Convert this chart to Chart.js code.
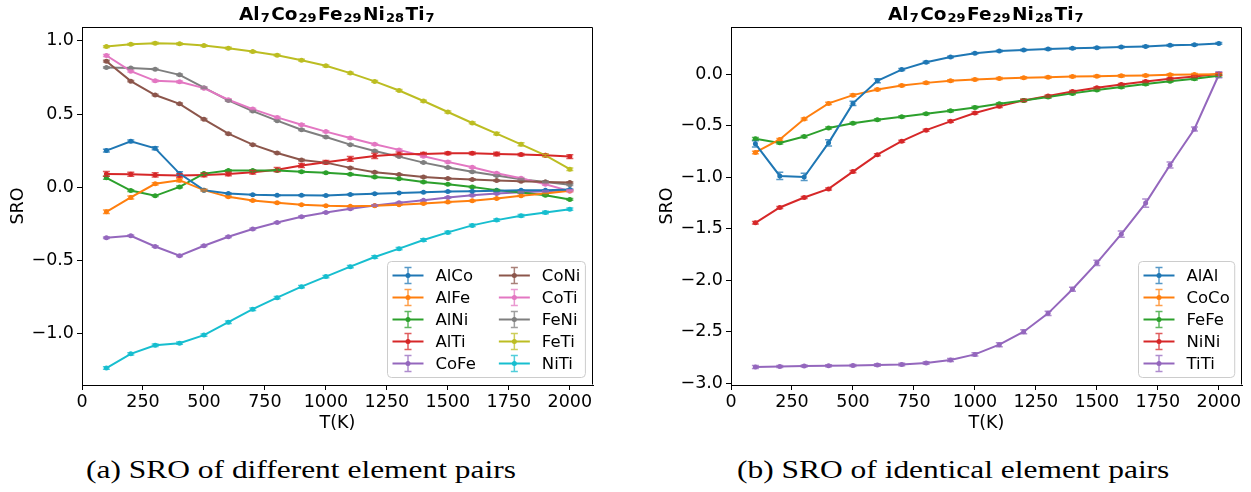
<!DOCTYPE html>
<html>
<head>
<meta charset="utf-8">
<script src="https://cdn.jsdelivr.net/npm/chart.js@4.4.1/dist/chart.umd.min.js"></script>
<style>
  html, body { margin: 0; padding: 0; background: #fff; }
  #wrap { position: relative; width: 1251px; height: 492px; overflow: hidden; background: #fff; }
  canvas { position: absolute; top: 0; }
  .cap { position: absolute; top: 457px; font-family: "Liberation Serif", serif; font-size: 26px; line-height: 1; color: #000; white-space: nowrap; transform-origin: left top; }
</style>
</head>
<body>
<div id="wrap">
  <canvas id="pairs-chart" width="625" height="440" style="left:0"></canvas>
  <canvas id="self-chart" width="626" height="440" style="left:625px"></canvas>
  <div class="cap" id="cap-a">(a) SRO of different element pairs</div>
  <div class="cap" id="cap-b">(b) SRO of identical element pairs</div>
</div>
<script>
const tempsK = [100, 200, 300, 400, 500, 600, 700, 800, 900, 1000, 1100, 1200, 1300, 1400, 1500, 1600, 1700, 1800, 1900, 2000];
const xTickValues = [0, 250, 500, 750, 1000, 1250, 1500, 1750, 2000];
const pairYTicks = [-1.0, -0.5, 0.0, 0.5, 1.0];
const selfYTicks = [-3.0, -2.5, -2.0, -1.5, -1.0, -0.5, 0.0];

const tab10 = ['#1f77b4', '#ff7f0e', '#2ca02c', '#d62728', '#9467bd', '#8c564b', '#e377c2', '#7f7f7f', '#bcbd22', '#17becf'];

// (a) different element pairs
const pairLabels = ['AlCo', 'AlFe', 'AlNi', 'AlTi', 'CoFe', 'CoNi', 'CoTi', 'FeNi', 'FeTi', 'NiTi'];
const sroAlCo = [0.25, 0.314, 0.266, 0.093, -0.02, -0.043, -0.052, -0.055, -0.055, -0.057, -0.05, -0.045, -0.039, -0.034, -0.03, -0.027, -0.025, -0.02, -0.02, -0.016];
const sroAlFe = [-0.168, -0.07, 0.023, 0.048, -0.02, -0.066, -0.091, -0.107, -0.12, -0.127, -0.13, -0.127, -0.12, -0.111, -0.102, -0.093, -0.077, -0.059, -0.043, -0.025];
const sroAlNi = [0.064, -0.023, -0.059, 0.002, 0.093, 0.114, 0.114, 0.114, 0.105, 0.098, 0.089, 0.07, 0.057, 0.036, 0.02, 0.002, -0.02, -0.036, -0.055, -0.084];
const sroAlTi = [0.091, 0.089, 0.084, 0.08, 0.084, 0.091, 0.102, 0.12, 0.148, 0.17, 0.193, 0.214, 0.225, 0.227, 0.232, 0.232, 0.227, 0.223, 0.218, 0.209];
const sroCoFe = [-0.345, -0.332, -0.405, -0.468, -0.4, -0.339, -0.286, -0.241, -0.202, -0.173, -0.148, -0.125, -0.107, -0.09, -0.07, -0.055, -0.043, -0.034, -0.027, -0.02];
const sroCoNi = [0.861, 0.725, 0.63, 0.57, 0.464, 0.366, 0.291, 0.234, 0.186, 0.168, 0.132, 0.102, 0.086, 0.07, 0.059, 0.052, 0.045, 0.041, 0.036, 0.032];
const sroCoTi = [0.9, 0.793, 0.727, 0.72, 0.677, 0.598, 0.534, 0.477, 0.427, 0.38, 0.336, 0.293, 0.255, 0.211, 0.173, 0.136, 0.095, 0.061, 0.02, -0.027];
const sroFeNi = [0.818, 0.814, 0.807, 0.768, 0.68, 0.593, 0.52, 0.455, 0.393, 0.343, 0.291, 0.248, 0.209, 0.168, 0.134, 0.105, 0.08, 0.055, 0.036, 0.016];
const sroFeTi = [0.961, 0.977, 0.984, 0.98, 0.968, 0.95, 0.927, 0.902, 0.868, 0.83, 0.78, 0.723, 0.661, 0.589, 0.514, 0.439, 0.366, 0.293, 0.218, 0.123];
const sroNiTi = [-1.236, -1.139, -1.08, -1.066, -1.011, -0.923, -0.834, -0.755, -0.68, -0.611, -0.543, -0.477, -0.42, -0.361, -0.309, -0.261, -0.225, -0.195, -0.173, -0.15];

const errAlCo = [0.01, 0.008, 0.01, 0.012, 0.005, 0.004, 0.003, 0.003, 0.003, 0.003, 0.003, 0.003, 0.003, 0.003, 0.003, 0.003, 0.003, 0.003, 0.003, 0.003];
const errAlFe = [0.012, 0.01, 0.008, 0.01, 0.006, 0.005, 0.005, 0.004, 0.004, 0.004, 0.004, 0.004, 0.004, 0.004, 0.004, 0.004, 0.004, 0.004, 0.004, 0.004];
const errAlNi = [0.01, 0.006, 0.005, 0.006, 0.006, 0.006, 0.005, 0.005, 0.005, 0.005, 0.005, 0.005, 0.005, 0.005, 0.005, 0.005, 0.005, 0.005, 0.005, 0.006];
const errAlTi = [0.016, 0.014, 0.014, 0.012, 0.012, 0.012, 0.012, 0.014, 0.014, 0.012, 0.016, 0.018, 0.015, 0.01, 0.008, 0.008, 0.012, 0.008, 0.008, 0.012];
const errCoFe = [0.005, 0.005, 0.005, 0.005, 0.005, 0.005, 0.005, 0.005, 0.005, 0.005, 0.005, 0.005, 0.005, 0.005, 0.005, 0.005, 0.005, 0.005, 0.005, 0.005];
const errCoNi = [0.006, 0.005, 0.005, 0.005, 0.005, 0.005, 0.005, 0.005, 0.005, 0.005, 0.005, 0.005, 0.005, 0.005, 0.005, 0.005, 0.005, 0.005, 0.005, 0.005];
const errCoTi = [0.007, 0.006, 0.006, 0.006, 0.006, 0.006, 0.006, 0.006, 0.006, 0.006, 0.006, 0.006, 0.006, 0.006, 0.006, 0.006, 0.006, 0.006, 0.006, 0.006];
const errFeNi = [0.005, 0.005, 0.005, 0.005, 0.005, 0.005, 0.005, 0.005, 0.005, 0.005, 0.005, 0.005, 0.005, 0.005, 0.005, 0.005, 0.005, 0.005, 0.005, 0.005];
const errFeTi = [0.006, 0.006, 0.006, 0.006, 0.006, 0.006, 0.006, 0.006, 0.006, 0.006, 0.006, 0.006, 0.006, 0.006, 0.006, 0.006, 0.008, 0.01, 0.008, 0.008];
const errNiTi = [0.008, 0.008, 0.008, 0.008, 0.008, 0.008, 0.008, 0.008, 0.008, 0.008, 0.008, 0.008, 0.008, 0.008, 0.008, 0.008, 0.008, 0.008, 0.008, 0.008];

// (b) identical element pairs
const selfLabels = ['AlAl', 'CoCo', 'FeFe', 'NiNi', 'TiTi'];
const sroAlAl = [-0.675, -0.987, -0.997, -0.666, -0.283, -0.064, 0.045, 0.116, 0.167, 0.203, 0.225, 0.235, 0.244, 0.251, 0.257, 0.264, 0.27, 0.28, 0.286, 0.299];
const sroCoCo = [-0.759, -0.633, -0.434, -0.283, -0.203, -0.148, -0.109, -0.084, -0.064, -0.051, -0.042, -0.035, -0.029, -0.023, -0.019, -0.016, -0.013, -0.006, -0.003, 0.0];
const sroFeFe = [-0.627, -0.666, -0.605, -0.521, -0.476, -0.441, -0.412, -0.383, -0.354, -0.322, -0.286, -0.254, -0.222, -0.186, -0.154, -0.125, -0.096, -0.068, -0.045, -0.016];
const sroNiNi = [-1.442, -1.293, -1.196, -1.113, -0.945, -0.781, -0.65, -0.543, -0.457, -0.376, -0.312, -0.254, -0.212, -0.167, -0.132, -0.1, -0.071, -0.045, -0.023, 0.003];
const sroTiTi = [-2.841, -2.835, -2.831, -2.828, -2.825, -2.822, -2.816, -2.802, -2.773, -2.718, -2.624, -2.498, -2.32, -2.086, -1.83, -1.552, -1.25, -0.881, -0.531, -0.005];

const errAlAl = [0.03, 0.035, 0.035, 0.03, 0.02, 0.02, 0.01, 0.01, 0.008, 0.008, 0.008, 0.008, 0.008, 0.008, 0.008, 0.008, 0.008, 0.008, 0.008, 0.008];
const errCoCo = [0.012, 0.01, 0.01, 0.01, 0.01, 0.01, 0.01, 0.01, 0.01, 0.01, 0.01, 0.01, 0.01, 0.01, 0.01, 0.01, 0.01, 0.01, 0.01, 0.01];
const errFeFe = [0.012, 0.012, 0.01, 0.01, 0.01, 0.01, 0.01, 0.01, 0.01, 0.01, 0.01, 0.01, 0.01, 0.01, 0.01, 0.01, 0.01, 0.01, 0.01, 0.01];
const errNiNi = [0.012, 0.01, 0.01, 0.01, 0.01, 0.01, 0.01, 0.01, 0.01, 0.01, 0.01, 0.01, 0.01, 0.01, 0.01, 0.01, 0.01, 0.01, 0.01, 0.012];
const errTiTi = [0.015, 0.01, 0.01, 0.01, 0.01, 0.012, 0.012, 0.012, 0.015, 0.015, 0.02, 0.02, 0.02, 0.02, 0.025, 0.03, 0.04, 0.03, 0.02, 0.03];

const pairValues = [sroAlCo, sroAlFe, sroAlNi, sroAlTi, sroCoFe, sroCoNi, sroCoTi, sroFeNi, sroFeTi, sroNiTi];
const pairErrors = [errAlCo, errAlFe, errAlNi, errAlTi, errCoFe, errCoNi, errCoTi, errFeNi, errFeTi, errNiTi];
const selfValues = [sroAlAl, sroCoCo, sroFeFe, sroNiNi, sroTiTi];
const selfErrors = [errAlAl, errCoCo, errFeFe, errNiNi, errTiTi];

const FONT = 'DejaVu Sans';
const TICK_SIZE = 17.5;

function makeSet(label, values, errs, color) {
  return {
    label: label,
    data: tempsK.map((t, i) => ({ x: t, y: values[i] })),
    err: errs,
    borderColor: color,
    backgroundColor: color,
    borderWidth: 2,
    pointRadius: 2.5,
    pointHoverRadius: 2.5,
    pointBorderWidth: 0,
    tension: 0
  };
}

// error bars with caps, drawn on top of the lines
const errorBars = {
  id: 'errorBars',
  afterDatasetsDraw(chart) {
    const { ctx } = chart;
    const yScale = chart.scales.y;
    ctx.save();
    chart.data.datasets.forEach((ds, i) => {
      const meta = chart.getDatasetMeta(i);
      ctx.strokeStyle = ds.borderColor;
      ctx.globalAlpha = 0.75;
      ctx.lineWidth = 1.5;
      meta.data.forEach((pt, j) => {
        const v = ds.data[j].y, e = ds.err[j];
        const top = yScale.getPixelForValue(v + e);
        const bot = yScale.getPixelForValue(v - e);
        ctx.beginPath();
        ctx.moveTo(pt.x, top); ctx.lineTo(pt.x, bot);
        ctx.moveTo(pt.x - 3.5, top); ctx.lineTo(pt.x + 3.5, top);
        ctx.moveTo(pt.x - 3.5, bot); ctx.lineTo(pt.x + 3.5, bot);
        ctx.stroke();
      });
    });
    ctx.restore();
  }
};

// top and right spines (chart.js only draws left/bottom)
const frameBox = {
  id: 'frameBox',
  afterDraw(chart) {
    const { ctx, chartArea: a } = chart;
    const l = Math.round(a.left) + 0.5, r = Math.round(a.right) - 0.5;
    const t = Math.round(a.top) + 0.5, b = Math.round(a.bottom) - 0.5;
    ctx.save();
    ctx.strokeStyle = '#000';
    ctx.lineWidth = 1;
    ctx.beginPath();
    ctx.moveTo(l, t); ctx.lineTo(r, t); ctx.lineTo(r, b);
    ctx.stroke();
    ctx.restore();
  }
};

// bold title with subscripted counts
const titleParts = [['Al', '7'], ['Co', '29'], ['Fe', '29'], ['Ni', '28'], ['Ti', '7']];
const alloyTitle = {
  id: 'alloyTitle',
  afterDraw(chart) {
    const { ctx, chartArea: a } = chart;
    const big = 'bold 18.5px ' + FONT, small = 'bold 13px ' + FONT;
    const subPre = 1, subPost = 1.5;
    ctx.save();
    ctx.fillStyle = '#000';
    ctx.textBaseline = 'alphabetic';
    let w = 0;
    titleParts.forEach(([el, n]) => {
      ctx.font = big; w += ctx.measureText(el).width;
      ctx.font = small; w += ctx.measureText(n).width + subPre + subPost;
    });
    let x = (a.left + a.right) / 2 - w / 2;
    const base = 20;
    titleParts.forEach(([el, n]) => {
      ctx.font = big; ctx.fillText(el, x, base); x += ctx.measureText(el).width + subPre;
      ctx.font = small; ctx.fillText(n, x, base + 2); x += ctx.measureText(n).width + subPost;
    });
    ctx.restore();
  }
};

// legend placed inside the axes, lower right, with errorbar handles
const innerLegend = {
  id: 'innerLegend',
  afterDraw(chart, args, opts) {
    const { ctx, chartArea: a } = chart;
    const sets = chart.data.datasets;
    const cols = opts.columns;
    const rows = Math.ceil(sets.length / cols);
    const handleLen = 31, handleGap = 12, colGap = 23, padX = 5, padY = 3, rowH = 22;
    ctx.save();
    ctx.font = '16.5px ' + FONT;
    const colW = [];
    for (let c = 0; c < cols; c++) {
      let w = 0;
      for (let r = 0; r < rows; r++) {
        const ds = sets[c * rows + r];
        if (ds) w = Math.max(w, ctx.measureText(ds.label).width);
      }
      colW.push(handleLen + handleGap + w);
    }
    const boxW = padX * 2 + colW.reduce((s, w) => s + w, 0) + colGap * (cols - 1);
    const boxH = padY * 2 + rows * rowH;
    const bx = Math.round(a.right - 8 - boxW) + 0.5;
    const by = Math.round(a.bottom - 8 - boxH) + 0.5;
    ctx.beginPath();
    ctx.roundRect(bx, by, boxW, boxH, 4);
    ctx.globalAlpha = 0.8;
    ctx.fillStyle = '#fff';
    ctx.fill();
    ctx.globalAlpha = 1;
    ctx.strokeStyle = '#cccccc';
    ctx.lineWidth = 1;
    ctx.stroke();
    let cx = bx + padX;
    for (let c = 0; c < cols; c++) {
      for (let r = 0; r < rows; r++) {
        const ds = sets[c * rows + r];
        if (!ds) continue;
        const cy = by + padY + r * rowH + rowH / 2;
        const mid = cx + handleLen / 2;
        ctx.strokeStyle = ds.borderColor;
        ctx.lineWidth = 2;
        ctx.beginPath();
        ctx.moveTo(cx, cy); ctx.lineTo(cx + handleLen, cy);
        ctx.stroke();
        ctx.globalAlpha = 0.75;
        ctx.lineWidth = 1.5;
        ctx.beginPath();
        ctx.moveTo(mid, cy - 8); ctx.lineTo(mid, cy + 8);
        ctx.moveTo(mid - 3.5, cy - 8); ctx.lineTo(mid + 3.5, cy - 8);
        ctx.moveTo(mid - 3.5, cy + 8); ctx.lineTo(mid + 3.5, cy + 8);
        ctx.stroke();
        ctx.globalAlpha = 1;
        ctx.fillStyle = ds.borderColor;
        ctx.beginPath();
        ctx.arc(mid, cy, 2.5, 0, Math.PI * 2);
        ctx.fill();
        ctx.fillStyle = '#000';
        ctx.textBaseline = 'middle';
        ctx.textAlign = 'left';
        ctx.fillText(ds.label, cx + handleLen + handleGap, cy + 1);
      }
      cx += colW[c] + colGap;
    }
    ctx.restore();
  }
};

function fmtY(v) {
  if (Math.abs(v) < 1e-9) return '0.0';
  return (v < 0 ? '\u2212' : '') + Math.abs(v).toFixed(1);
}

function makeOptions(yMin, yMax, yTicks, padLeft, padRight, legendCols) {
  return {
    responsive: false,
    animation: false,
    devicePixelRatio: 1,
    layout: { padding: { left: padLeft, top: 27, right: padRight, bottom: 5 } },
    plugins: {
      legend: { display: false },
      tooltip: { enabled: false },
      title: { display: false },
      innerLegend: { columns: legendCols }
    },
    scales: {
      x: {
        type: 'linear',
        min: 0,
        max: 2095,
        afterBuildTicks: (s) => { s.ticks = xTickValues.map(v => ({ value: v })); },
        afterFit: (s) => { s.height = 50; },
        ticks: { color: '#000', font: { family: FONT, size: TICK_SIZE }, padding: 2, maxRotation: 0, autoSkip: false, callback: (v) => String(v) },
        grid: { display: true, drawOnChartArea: false, drawTicks: true, tickLength: 5, tickColor: '#000', tickWidth: 1 },
        border: { display: true, color: '#000', width: 1 },
        title: { display: true, text: 'T(K)', color: '#000', font: { family: FONT, size: TICK_SIZE }, padding: { top: 0, bottom: 1 } }
      },
      y: {
        type: 'linear',
        min: yMin,
        max: yMax,
        afterBuildTicks: (s) => { s.ticks = yTicks.map(v => ({ value: v })); },
        afterFit: (s) => { s.width = 82; },
        ticks: { color: '#000', font: { family: FONT, size: TICK_SIZE }, padding: 3, autoSkip: false, callback: fmtY },
        grid: { display: true, drawOnChartArea: false, drawTicks: true, tickLength: 5, tickColor: '#000', tickWidth: 1 },
        border: { display: true, color: '#000', width: 1 },
        title: { display: true, text: 'SRO', color: '#000', font: { family: FONT, size: TICK_SIZE }, padding: { top: 8, bottom: 0 } }
      }
    }
  };
}

new Chart(document.getElementById('pairs-chart'), {
  type: 'line',
  data: { datasets: pairLabels.map((l, i) => makeSet(l, pairValues[i], pairErrors[i], tab10[i])) },
  options: makeOptions(-1.352, 1.095, pairYTicks, 0, 32, 2),
  plugins: [errorBars, frameBox, alloyTitle, innerLegend]
});

new Chart(document.getElementById('self-chart'), {
  type: 'line',
  data: { datasets: selfLabels.map((l, i) => makeSet(l, selfValues[i], selfErrors[i], tab10[i])) },
  options: makeOptions(-3.015, 0.458, selfYTicks, 24, 9, 1),
  plugins: [errorBars, frameBox, alloyTitle, innerLegend]
});

// captions: stretch to the width of the original serif captions
const capA = document.getElementById('cap-a');
const capB = document.getElementById('cap-b');
const k = 430 / capA.getBoundingClientRect().width;
[[capA, 301], [capB, 953]].forEach(([el, cx]) => {
  const w = el.getBoundingClientRect().width * k;
  el.style.transform = 'scaleX(' + k + ')';
  el.style.left = (cx - w / 2) + 'px';
});
</script>
</body>
</html>
